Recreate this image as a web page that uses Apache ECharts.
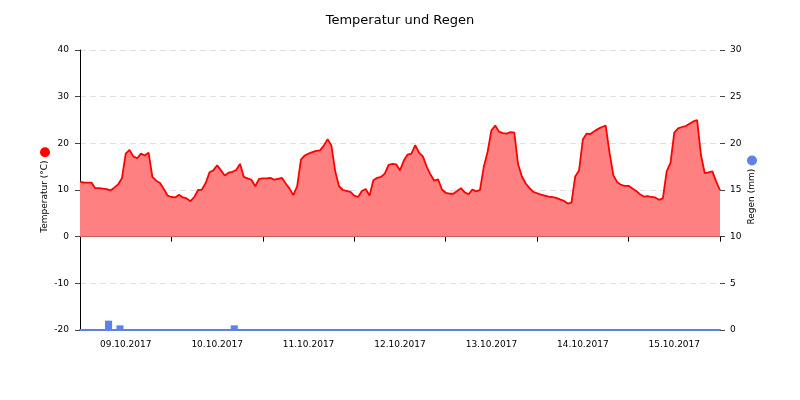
<!DOCTYPE html>
<html>
<head>
<meta charset="utf-8">
<script src="https://cdn.jsdelivr.net/npm/echarts@6/dist/echarts.min.js"></script>
<style>
  html, body { margin: 0; padding: 0; background: #fff; }
  #chart { width: 800px; height: 400px; }
</style>
</head>
<body>
<div id="chart"></div>
<script>
// days shown on the x axis (last one only closes the range)
const days = ['09.10.2017', '10.10.2017', '11.10.2017', '12.10.2017', '13.10.2017', '14.10.2017', '15.10.2017', '16.10.2017'];

// hourly temperature, 09.10. 00:00 to 16.10. 00:00
const temperature = [
  11.8, 11.6, 11.6, 11.6, 10.4, 10.4, 10.3, 10.2, 9.9, 10.5, 11.2, 12.5, 17.8, 18.6, 17.2, 16.8, 17.8, 17.4, 18.0, 12.8, 12.0, 11.5, 10.2, 8.8,
  8.5, 8.4, 9.0, 8.4, 8.2, 7.6, 8.5, 10.0, 10.1, 11.5, 13.8, 14.2, 15.3, 14.2, 13.1, 13.7, 13.9, 14.3, 15.6, 12.8, 12.5, 12.2, 10.8, 12.4,
  12.5, 12.5, 12.6, 12.2, 12.4, 12.6, 11.4, 10.3, 8.9, 10.8, 16.5, 17.4, 17.8, 18.1, 18.4, 18.5, 19.5, 20.9, 19.5, 14.0, 10.8, 10.0, 9.8, 9.6,
  8.8, 8.5, 9.8, 10.2, 8.8, 12.1, 12.6, 12.8, 13.5, 15.4, 15.6, 15.5, 14.2, 16.3, 17.6, 17.8, 19.6, 18.0, 17.2, 15.0, 13.3, 12.0, 12.3, 10.1,
  9.4, 9.2, 9.2, 9.8, 10.4, 9.5, 9.1, 10.1, 9.7, 10.0, 15.0, 18.2, 22.8, 23.8, 22.5, 22.2, 22.1, 22.4, 22.3, 15.5, 12.9, 11.4, 10.4, 9.6,
  9.3, 9.0, 8.8, 8.6, 8.5, 8.3, 8.0, 7.7, 7.1, 7.3, 12.9, 14.2, 20.8, 22.1, 22.0, 22.6, 23.1, 23.5, 23.8, 18.0, 13.2, 11.7, 11.1, 10.9,
  10.9, 10.3, 9.8, 9.1, 8.6, 8.7, 8.5, 8.4, 7.9, 8.2, 14.0, 15.8, 22.3, 23.2, 23.5, 23.7, 24.2, 24.7, 25.0, 17.5, 13.6, 13.8, 14.0, 11.8,
  10.0
];

// rain per 3 hours (56 bins)
const rain = [
  0, 0, 1.0, 0.5, 0, 0, 0, 0,
  0, 0, 0, 0, 0, 0.5, 0, 0,
  0, 0, 0, 0, 0, 0, 0, 0,
  0, 0, 0, 0, 0, 0, 0, 0,
  0, 0, 0, 0, 0, 0, 0, 0,
  0, 0, 0, 0, 0, 0, 0, 0,
  0, 0, 0, 0, 0, 0, 0, 0
];

const tempTicks = { min: -20, max: 40, step: 10 };
const rainTicks = { min: 0, max: 30, step: 5 };

// category labels "dd.mm.yyyy hh:00"
const hours = [];
for (let d = 0; d < days.length - 1; d++) {
  for (let h = 0; h < 24; h++) {
    hours.push(days[d] + ' ' + String(h).padStart(2, '0') + ':00');
  }
}
hours.push(days[days.length - 1] + ' 00:00');

const rainBins = rain.map((v, i) => hours[i * 3]);

const font = 'DejaVu Sans';
const chart = echarts.init(document.getElementById('chart'));

chart.setOption({
  animation: false,
  title: {
    text: 'Temperatur und Regen',
    left: 'center',
    top: 9,
    textStyle: { fontFamily: font, fontSize: 13, fontWeight: 'normal', color: '#000' }
  },
  grid: { left: 80, right: 80, top: 50, bottom: 70 },
  xAxis: [
    {
      type: 'category',
      data: hours,
      boundaryGap: false,
      axisLine: { lineStyle: { color: '#000', width: 1 } },
      axisTick: {
        length: 5,
        interval: (i) => i % 24 === 0,
        lineStyle: { color: '#000' }
      },
      axisLabel: {
        interval: (i) => i % 24 === 12,
        formatter: (v) => v.split(' ')[0],
        fontFamily: font,
        fontSize: 9,
        color: '#000',
        margin: 10
      },
      splitLine: { show: false }
    },
    {
      type: 'category',
      data: rainBins,
      position: 'bottom',
      boundaryGap: true,
      axisLine: { show: true, lineStyle: { color: '#5f80e6', width: 2 } },
      axisTick: { show: false },
      axisLabel: { show: false },
      splitLine: { show: false }
    }
  ],
  yAxis: [
    {
      type: 'value',
      min: tempTicks.min,
      max: tempTicks.max,
      interval: tempTicks.step,
      name: '{t|Temperatur (°C)} {d|}',
      nameLocation: 'middle',
      nameRotate: 90,
      nameGap: 29,
      nameMoveOverlap: false,
      nameTextStyle: {
        rich: {
          t: { fontFamily: font, fontSize: 9, color: '#000' },
          d: { width: 10, height: 10, borderRadius: 5, backgroundColor: '#ff0000' }
        }
      },
      axisLine: { show: true, lineStyle: { color: '#000', width: 1 } },
      axisTick: { show: true, length: 5, lineStyle: { color: '#444' } },
      axisLabel: { fontFamily: font, fontSize: 9, color: '#000', margin: 11 },
      splitLine: { show: true, lineStyle: { color: '#e0e0e0', type: [6, 4] } }
    },
    {
      type: 'value',
      position: 'right',
      min: rainTicks.min,
      max: rainTicks.max,
      interval: rainTicks.step,
      name: '{t|Regen (mm)} {d|}',
      nameLocation: 'middle',
      nameRotate: 90,
      nameGap: 26,
      nameMoveOverlap: false,
      nameTextStyle: {
        rich: {
          t: { fontFamily: font, fontSize: 9, color: '#000' },
          d: { width: 10, height: 10, borderRadius: 5, backgroundColor: '#5f80e6' }
        }
      },
      axisLine: { show: false },
      axisTick: { show: true, length: 5, lineStyle: { color: '#444' } },
      axisLabel: { fontFamily: font, fontSize: 9, color: '#000', margin: 10 },
      splitLine: { show: false }
    }
  ],
  series: [
    {
      name: 'Temperatur',
      type: 'line',
      xAxisIndex: 0,
      yAxisIndex: 0,
      data: temperature,
      showSymbol: false,
      lineStyle: { color: '#ff0000', width: 1.8 },
      areaStyle: { color: '#ff8080', opacity: 1, origin: 0 },
      z: 2
    },
    {
      name: 'Regen',
      type: 'bar',
      xAxisIndex: 1,
      yAxisIndex: 1,
      data: rain,
      barWidth: '62%',
      itemStyle: { color: '#5f80e6' },
      z: 3
    }
  ]
});
</script>
</body>
</html>
